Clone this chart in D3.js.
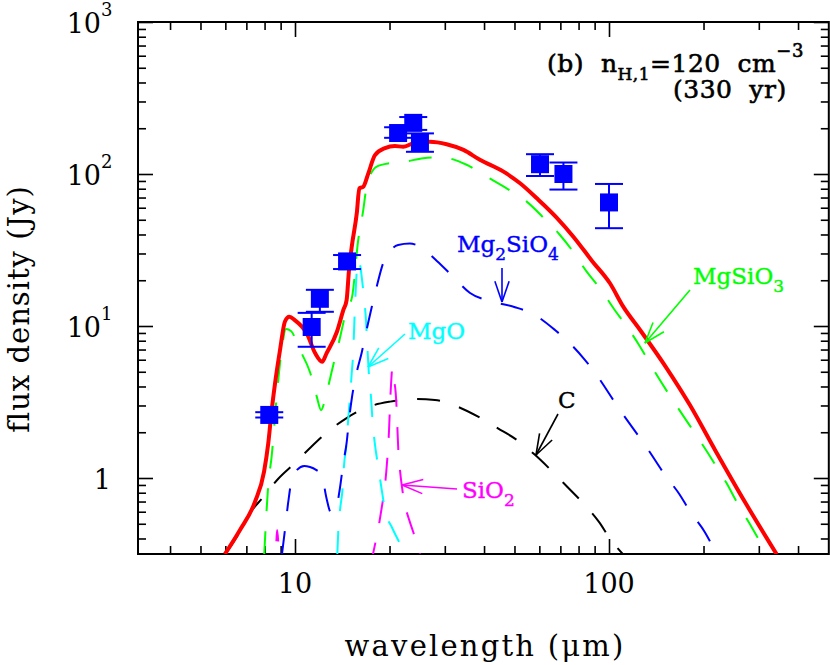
<!DOCTYPE html>
<html>
<head>
<meta charset="utf-8">
<script src="https://cdn.jsdelivr.net/npm/d3@7"></script>
<style>
  body { margin: 0; background: #fff; }
  text { font-family: "DejaVu Serif", serif; }
</style>
</head>
<body>
<script>
// ---- data (wavelength in um, flux density in Jy) ----
var totalLam = [5.98, 6.68, 7.46, 7.97, 8.22, 8.43, 8.64, 8.96, 9.29, 9.59, 10.0, 10.9, 11.6, 12.2, 12.6, 13.6, 14.25, 14.6, 14.86, 15.16, 15.73, 16.03, 16.5, 17.12, 17.98, 19.35, 20.8, 22.1, 23.8, 26.9, 30.4, 34.4, 38.8, 46.0, 52.1, 58.9, 68.1, 77.0, 88.3, 100.7, 111, 125.6, 152.7, 181, 217.6, 271, 342];
var totalJy  = [0.316, 0.455, 0.698, 1.10, 1.69, 2.80, 4.20, 6.95, 10.7, 11.5, 10.9, 8.95, 6.61, 5.82, 6.61, 9.17, 12.7, 14.8, 23.4, 33.2, 55.1, 80.5, 82.5, 101, 133, 148, 153, 151, 159, 163, 157, 144, 124, 104, 86.9, 69.2, 51.7, 38.7, 26.8, 19.1, 13.4, 9.41, 5.27, 3.02, 1.53, 0.695, 0.315];

var mgsio3Lam = [7.98, 8.22, 8.43, 8.74, 9.07, 9.36, 9.71, 10.37, 11.16, 11.73, 12.1, 12.6, 13.2, 13.7, 14.6, 15.2, 15.9, 16.5, 16.9, 18.2, 20.1, 22.1, 25.6, 29.0, 35.2, 40.8, 47.2, 54.7, 61.8, 69.8, 76.9, 84.9, 93.6, 104.4, 115, 125.6, 136.8, 215, 237, 255, 280, 319];
var mgsio3Jy  = [0.315, 0.90, 1.40, 3.41, 6.95, 9.55, 9.27, 6.95, 4.98, 3.43, 2.80, 3.62, 5.40, 7.31, 12.7, 15.6, 36.8, 58.0, 82.1, 112, 118, 120, 127, 129, 115, 96, 80.5, 65.8, 51.7, 39.7, 30.8, 22.8, 17.7, 12.7, 9.66, 7.31, 5.40, 1.28, 0.923, 0.698, 0.504, 0.315];

var mg2sio4Lam = [9.09, 9.29, 9.52, 9.76, 10.15, 10.7, 11.16, 11.67, 12.16, 12.6, 13.0, 13.4, 13.9, 14.25, 14.6, 14.86, 15.19, 15.73, 16.3, 16.9, 17.55, 18.2, 19.1, 20.2, 21.3, 23.2, 25.0, 28.3, 31.9, 36.1, 42.3, 50.2, 58.1, 67.3, 76.0, 83.9, 88.1, 108.4, 133.4, 150.6, 167.4, 182, 202, 220];
var mg2sio4Jy  = [0.316, 0.455, 0.698, 0.97, 1.13, 1.20, 1.18, 1.13, 1.05, 0.735, 0.597, 0.60, 0.856, 1.25, 1.70, 2.41, 3.41, 4.98, 6.64, 9.41, 13.3, 18.1, 26.0, 31.6, 34.1, 34.9, 33.2, 26.8, 21.1, 16.5, 14.5, 13.3, 11.8, 9.41, 7.50, 5.97, 5.27, 2.80, 1.53, 1.05, 0.785, 0.594, 0.44, 0.315];

var mgoLam = [13.64, 13.74, 13.91, 14.19, 14.32, 14.6, 14.78, 14.97, 15.16, 15.34, 15.45, 15.56, 15.70, 15.87, 16.1, 16.35, 16.59, 16.83, 17.02, 17.21, 17.46, 17.65, 17.98, 18.42, 18.89, 19.35, 20.4, 21.3, 22.4];
var mgoJy  = [0.316, 0.455, 0.616, 0.873, 1.20, 1.70, 2.48, 3.41, 4.91, 6.95, 10.5, 14.8, 21.7, 27.2, 25.6, 20.1, 15.3, 10.9, 6.95, 4.69, 3.41, 2.41, 1.65, 1.18, 0.834, 0.616, 0.469, 0.391, 0.316];

var sio2Lam = [8.6, 8.69, 8.77, 8.89, 9.0, 17.0, 17.72, 18.38, 18.88, 19.35, 19.63, 19.93, 20.07, 20.22, 20.42, 20.67, 20.93, 21.08, 21.20, 21.33, 21.59, 21.91, 22.4, 23.1, 23.8, 24.6, 25.0];
var sio2Jy  = [0.2, 0.316, 0.455, 0.316, 0.2, 0.2, 0.316, 0.455, 0.635, 0.90, 1.255, 2.07, 3.02, 4.09, 5.29, 4.41, 3.62, 2.80, 2.07, 1.53, 1.13, 0.873, 0.664, 0.53, 0.441, 0.352, 0.316];

var carbonLam = [6.0, 6.52, 7.19, 7.93, 8.83, 10.0, 11.25, 12.7, 14.6, 17.08, 20.1, 23.8, 27.9, 33.0, 38.3, 44.3, 50.9, 58.1, 65.8, 74.0, 82.6, 92.9, 101.4, 110.8];
var carbonJy  = [0.316, 0.409, 0.589, 0.750, 0.985, 1.255, 1.60, 2.01, 2.48, 2.93, 3.18, 3.31, 3.26, 2.94, 2.53, 2.12, 1.78, 1.42, 1.11, 0.866, 0.685, 0.514, 0.391, 0.315];

// observed points with error bars
var obsLam = [8.28, 11.3, 12.0, 14.65, 21.3, 23.8, 25.0, 60.3, 71.6, 100];
var obsJy  = [2.6, 9.85, 15.1, 26.6, 186, 217, 161, 116, 100, 65];
var obsLo  = [2.5, 7.3, 12.4, 23.7, 173, 195, 140, 97, 79, 44];
var obsHi  = [2.71, 12.2, 17.3, 29.3, 203, 237, 185, 135, 119, 86];

// axis ticks
var xMajor = [10, 100];
var xMajorLabels = ["10", "100"];
var xMinor = [4, 5, 6, 7, 8, 9, 20, 30, 40, 50, 60, 70, 80, 90, 200, 300, 400];
var yMajor = [1, 10, 100, 1000];
var yMajorExp = ["", "1", "2", "3"];
var yMinor = [0.4, 0.5, 0.6, 0.7, 0.8, 0.9, 2, 3, 4, 5, 6, 7, 8, 9, 20, 30, 40, 50, 60, 70, 80, 90, 200, 300, 400, 500, 600, 700, 800, 900];

// ---- layout ----
var W = 830, H = 665;
var pLeft = 138, pRight = 828.8, pTop = 22, pBottom = 554;

var x = d3.scaleLog().domain([Math.pow(10, 0.5), Math.pow(10, 2.7)]).range([pLeft, pRight]);
var y = d3.scaleLog().domain([Math.pow(10, -0.5), 1000]).range([pBottom, pTop]);

var svg = d3.select("body").append("svg")
    .attr("width", W)
    .attr("height", H);

svg.append("defs").append("clipPath").attr("id", "plotclip")
  .append("rect")
    .attr("x", pLeft).attr("y", pTop)
    .attr("width", pRight - pLeft).attr("height", pBottom - pTop);

// ticks (all pointing inward)
function tickAxis(axis, tx, ty) {
  var g = svg.append("g")
      .attr("transform", "translate(" + tx + "," + ty + ")")
      .call(axis.tickFormat(""));
  g.select(".domain").remove();
  g.selectAll("line").attr("stroke", "#000").attr("stroke-width", 1.6);
}
tickAxis(d3.axisBottom(x).tickValues(xMajor).tickSize(-15), 0, pBottom);
tickAxis(d3.axisBottom(x).tickValues(xMinor).tickSize(-8), 0, pBottom);
tickAxis(d3.axisTop(x).tickValues(xMajor).tickSize(-15), 0, pTop);
tickAxis(d3.axisTop(x).tickValues(xMinor).tickSize(-8), 0, pTop);
tickAxis(d3.axisLeft(y).tickValues(yMajor).tickSize(-15), pLeft, 0);
tickAxis(d3.axisLeft(y).tickValues(yMinor).tickSize(-8), pLeft, 0);
tickAxis(d3.axisRight(y).tickValues(yMajor).tickSize(-15), pRight, 0);
tickAxis(d3.axisRight(y).tickValues(yMinor).tickSize(-8), pRight, 0);

// frame
svg.append("rect")
    .attr("x", pLeft).attr("y", pTop)
    .attr("width", pRight - pLeft).attr("height", pBottom - pTop)
    .attr("fill", "none")
    .attr("stroke", "#000")
    .attr("stroke-width", 2);

// tick labels
xMajor.forEach(function(v, i) {
  svg.append("text")
      .attr("x", x(v)).attr("y", 593)
      .attr("text-anchor", "middle")
      .style("font-size", "27px")
      .text(xMajorLabels[i]);
});
yMajor.forEach(function(v, i) {
  if (yMajorExp[i] === "") {
    svg.append("text")
        .attr("x", 111).attr("y", y(v) + 11)
        .attr("text-anchor", "end")
        .style("font-size", "27px")
        .text("1");
  } else {
    svg.append("text")
        .attr("x", 101).attr("y", y(v) + 11)
        .attr("text-anchor", "end")
        .style("font-size", "27px")
        .text("10");
    svg.append("text")
        .attr("x", 101).attr("y", y(v) - 6)
        .style("font-size", "18px")
        .text(yMajorExp[i]);
  }
});

// axis titles
svg.append("text")
    .attr("x", 485).attr("y", 656)
    .attr("text-anchor", "middle")
    .style("font-size", "29px")
    .style("letter-spacing", "2.2px")
    .text("wavelength (\u03bcm)");

svg.append("text")
    .attr("transform", "translate(29,309) rotate(-90)")
    .attr("text-anchor", "middle")
    .style("font-size", "29px")
    .style("letter-spacing", "1px")
    .text("flux density (Jy)");

// model curves
var plot = svg.append("g").attr("clip-path", "url(#plotclip)");

var line = d3.line()
    .curve(d3.curveMonotoneX)
    .x(function(d) { return x(d[0]); })
    .y(function(d) { return y(d[1]); });

function curve(lam, jy, color, width, dash) {
  plot.append("path")
      .datum(d3.zip(lam, jy))
      .attr("fill", "none")
      .attr("stroke", color)
      .attr("stroke-width", width)
      .attr("stroke-dasharray", dash)
      .attr("stroke-linejoin", "round")
      .attr("d", line);
}

curve(carbonLam, carbonJy, "#000000", 2, "23,20");
curve(sio2Lam, sio2Jy, "#ff00ff", 2, "23,20");
curve(mgoLam, mgoJy, "#00ffff", 2, "23,20");
curve(mg2sio4Lam, mg2sio4Jy, "#0000ff", 2, "23,20");
curve(mgsio3Lam, mgsio3Jy, "#00ff00", 2, "23,20");
curve(totalLam, totalJy, "#ff0000", 4, null);

// observations
var obs = d3.range(obsLam.length).map(function(i) {
  return {lam: obsLam[i], jy: obsJy[i], lo: obsLo[i], hi: obsHi[i]};
});
var og = svg.append("g").attr("stroke", "#0000ff").attr("stroke-width", 2);
obs.forEach(function(d) {
  var cx = x(d.lam);
  og.append("line").attr("x1", cx).attr("x2", cx).attr("y1", y(d.lo)).attr("y2", y(d.hi));
  og.append("line").attr("x1", cx - 14).attr("x2", cx + 14).attr("y1", y(d.lo)).attr("y2", y(d.lo));
  og.append("line").attr("x1", cx - 14).attr("x2", cx + 14).attr("y1", y(d.hi)).attr("y2", y(d.hi));
});
svg.selectAll("rect.obs")
    .data(obs)
  .enter().append("rect")
    .attr("class", "obs")
    .attr("x", function(d) { return x(d.lam) - 9; })
    .attr("y", function(d) { return y(d.jy) - 9; })
    .attr("width", 18).attr("height", 18)
    .attr("fill", "#0000ff");

// labels with arrows
function arrow(x1, y1, x2, y2, color) {
  var a = Math.atan2(y2 - y1, x2 - x1), L = 22, s = 0.33;
  var g = svg.append("g").attr("stroke", color).attr("stroke-width", 1.6).attr("fill", "none");
  g.append("line").attr("x1", x1).attr("y1", y1).attr("x2", x2).attr("y2", y2);
  g.append("line").attr("x1", x2).attr("y1", y2)
      .attr("x2", x2 - L * Math.cos(a - s)).attr("y2", y2 - L * Math.sin(a - s));
  g.append("line").attr("x1", x2).attr("y1", y2)
      .attr("x2", x2 - L * Math.cos(a + s)).attr("y2", y2 - L * Math.sin(a + s));
}

// parts: [text, isSubscript]
function label(xp, yp, color, parts) {
  var t = svg.append("text").attr("x", xp).attr("y", yp)
      .attr("fill", color)
      .attr("stroke", color).attr("stroke-width", 0.4)
      .style("font-size", "23px");
  var cur = 0;
  parts.forEach(function(p) {
    var target = p[1] ? 8 : 0;
    var ts = t.append("tspan").attr("dy", target - cur).text(p[0]);
    if (p[1]) ts.style("font-size", "17px");
    cur = target;
  });
}

label(457, 252, "#0000ff", [["Mg"], ["2", 1], ["SiO"], ["4", 1]]);
arrow(502, 268, 502, 302, "#0000ff");

label(693, 284, "#00ff00", [["MgSiO"], ["3", 1]]);
arrow(690, 290, 645, 343, "#00ff00");

label(408, 339, "#00ffff", [["MgO"]]);
arrow(405, 334, 368, 367, "#00ffff");

label(558, 408, "#000000", [["C"]]);
arrow(558, 414, 536, 455, "#000000");

label(462, 498, "#ff00ff", [["SiO"], ["2", 1]]);
arrow(457, 489, 402, 485, "#ff00ff");

// panel annotation
var ann = svg.append("text").attr("x", 547).attr("y", 72)
    .attr("stroke", "#000").attr("stroke-width", 0.6)
    .style("font-size", "25px").style("letter-spacing", "0.5px");
ann.append("tspan").text("(b)\u00a0\u00a0n");
ann.append("tspan").attr("dy", 8).style("font-size", "17px").text("H,1");
ann.append("tspan").attr("dy", -8).text("=120\u00a0\u00a0cm");
ann.append("tspan").attr("dy", -15).style("font-size", "18px").text("\u22123");

svg.append("text").attr("x", 673).attr("y", 98)
    .attr("stroke", "#000").attr("stroke-width", 0.6)
    .style("font-size", "25px").style("letter-spacing", "0.5px")
    .text("(330\u00a0\u00a0yr)");
</script>
</body>
</html>
